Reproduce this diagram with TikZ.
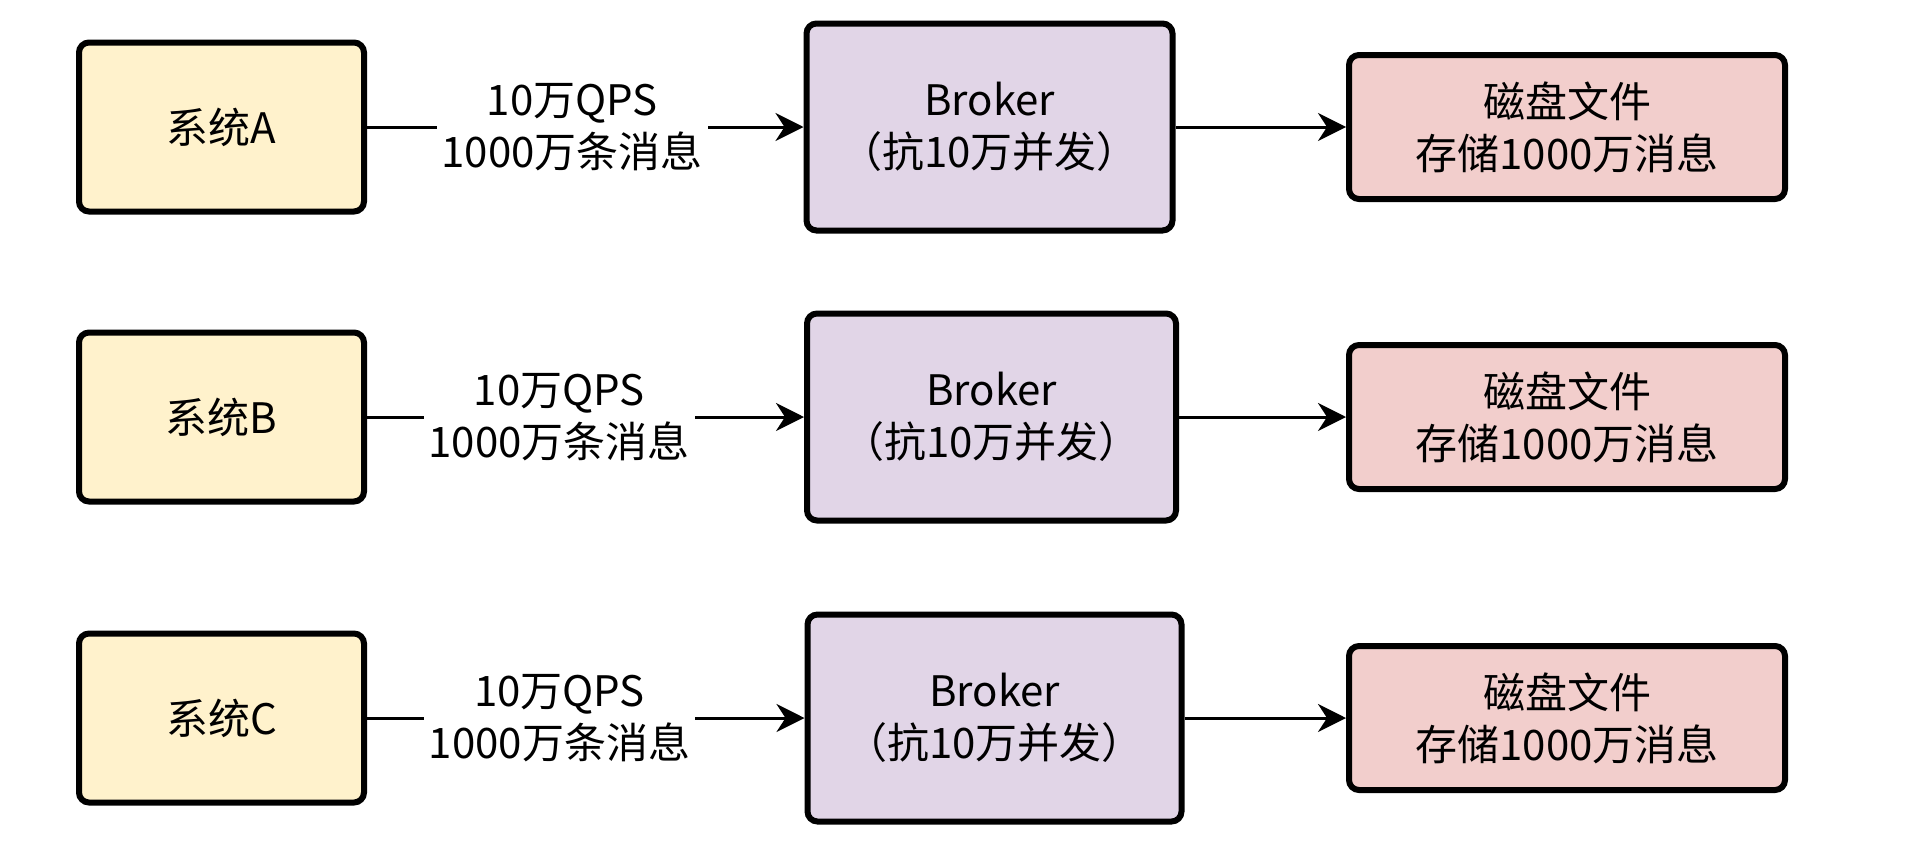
\documentclass[tikz,border=0pt]{standalone}
\usepackage{fontspec}
\setmainfont{Noto Sans CJK SC}
\usepackage{tikz}
\usetikzlibrary{arrows.meta, positioning}
\definecolor{sysyellow} {RGB}{255, 242, 204}
\definecolor{brokerpurp}{RGB}{225, 213, 231}
\definecolor{diskred}   {RGB}{242, 206, 204}

\tikzset{
	box/.style={draw, line width=6pt, rounded corners=10pt, align=center,
		font=\fontsize{42}{52}\selectfont},
	sysbox/.style={box, fill=sysyellow, minimum width=285pt, minimum height=169pt},
	brokerbox/.style={box, fill=brokerpurp, minimum width=366pt, minimum height=207pt},
	diskbox/.style={box, fill=diskred, minimum width=436pt, minimum height=144pt},
	flow/.style={line width=3pt, -{Stealth[length=28pt, width=28pt, inset=9pt]}},
	flowlabel/.style={fill=white, inner sep=5pt, align=center,
		font=\fontsize{42}{52}\selectfont}
}

\begin{document}
\begin{tikzpicture}[x=1pt, y=-1pt]
	\useasboundingbox (0,0) rectangle (1910,846);
	% row A
	\node[sysbox] (sysA) at (221.5,127) {系统A};
	\node[brokerbox] (brokerA) at (989.5,127) {Broker\\（抗10万并发）};
	\node[diskbox] (diskA) at (1567,127) {磁盘文件\\存储1000万消息};
	\draw[flow] (sysA) -- node[flowlabel, pos=0.47] {10万QPS\\1000万条消息} (brokerA);
	\draw[flow] (brokerA) -- (diskA);
	% row B
	\node[sysbox] (sysB) at (221.5,417) {系统B};
	\node[brokerbox, minimum width=369pt] (brokerB) at (991.5,417) {Broker\\（抗10万并发）};
	\node[diskbox] (diskB) at (1567,417) {磁盘文件\\存储1000万消息};
	\draw[flow] (sysB) -- node[flowlabel, pos=0.44] {10万QPS\\1000万条消息} (brokerB);
	\draw[flow] (brokerB) -- (diskB);
	% row C
	\node[sysbox] (sysC) at (221.5,718) {系统C};
	\node[brokerbox, minimum width=374pt] (brokerC) at (994.5,718) {Broker\\（抗10万并发）};
	\node[diskbox] (diskC) at (1567,718) {磁盘文件\\存储1000万消息};
	\draw[flow] (sysC) -- node[flowlabel, pos=0.44] {10万QPS\\1000万条消息} (brokerC);
	\draw[flow] (brokerC) -- (diskC);
\end{tikzpicture}
\end{document}
